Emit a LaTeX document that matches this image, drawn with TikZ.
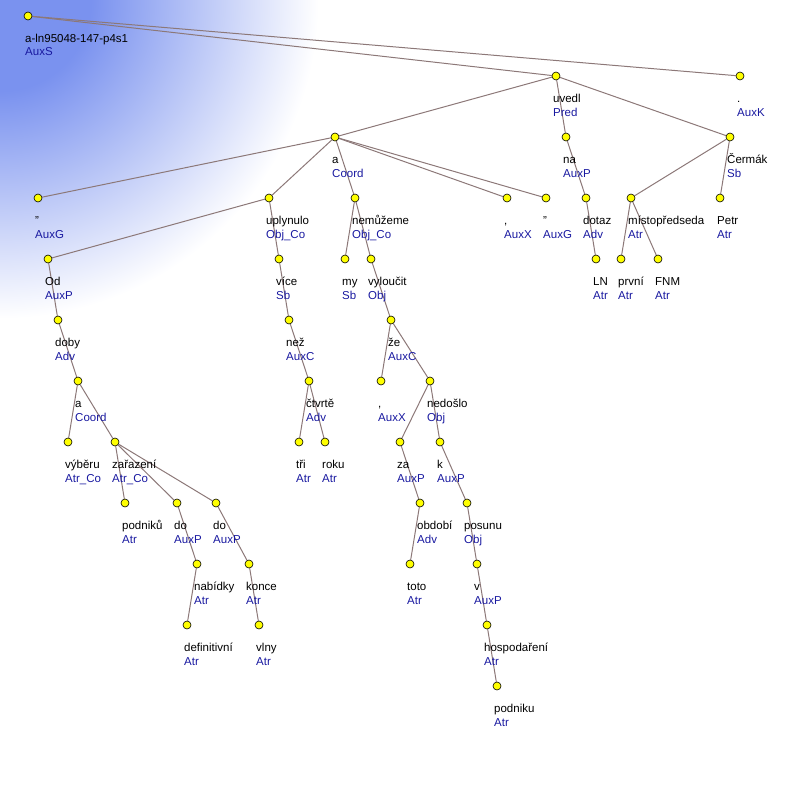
\documentclass[tikz,border=0pt]{standalone}
\usepackage{fontspec}
\setmainfont{Liberation Sans}
\usetikzlibrary{calc}
\usetikzlibrary{backgrounds}
\usepackage{xcolor}

\definecolor{fadeblue}{RGB}{122,146,239}
\definecolor{edgegray}{RGB}{140,120,120}
\definecolor{afunblue}{RGB}{25,25,160}
\definecolor{nodeyellow}{RGB}{255,255,0}

\pgfdeclareradialshading{cornerfade}{\pgfpoint{0bp}{0bp}}{color(0bp)=(fadeblue); color(7bp)=(fadeblue); color(24.5bp)=(white); color(50bp)=(white)}

\tikzset{
  tnode/.style={circle, draw=black, fill=nodeyellow, line width=0.6pt, inner sep=0pt, minimum size=8pt},
  tedge/.style={draw=edgegray, line width=1pt},
  wordlbl/.style={anchor=base west, inner sep=0pt, font=\fontsize{11.5}{13}\selectfont},
  afunlbl/.style={wordlbl, text=afunblue}
}

\begin{document}
\begin{tikzpicture}[x=1pt,y=-1pt]
        \useasboundingbox (0,0) rectangle (796,795);

        % Tree nodes
        \foreach \n/\x/\y/\w/\f in {root/28/16/a-ln95048-147-p4s1/AuxS,
            uvedl/556/76/uvedl/Pred, auxk/740/76/./AuxK,
            coord/335/137/a/Coord, na/566/137/na/AuxP, cermak/730/137/Čermák/Sb,
            quoA/38/198/"/AuxG, uplynulo/269/198/uplynulo/Obj\_Co,
            nemuzeme/355/198/nemůžeme/Obj\_Co, commaA/507/198/{,}/AuxX,
            quoB/546/198/"/AuxG, dotaz/586/198/dotaz/Adv,
            mistopr/631/198/místopředseda/Atr, petr/720/198/Petr/Atr,
            od/48/259/Od/AuxP, vice/279/259/více/Sb, my/345/259/my/Sb,
            vyloucit/371/259/vyloučit/Obj, ln/596/259/LN/Atr,
            prvni/621/259/první/Atr, fnm/658/259/FNM/Atr,
            doby/58/320/doby/Adv, nez/289/320/než/AuxC, ze/391/320/že/AuxC,
            coordB/78/381/a/Coord, ctvrte/309/381/čtvrtě/Adv,
            commaB/381/381/{,}/AuxX, nedoslo/430/381/nedošlo/Obj,
            vyberu/68/442/výběru/Atr\_Co, zarazeni/115/442/zařazení/Atr\_Co,
            tri/299/442/tři/Atr, roku/325/442/roku/Atr,
            za/400/442/za/AuxP, k/440/442/k/AuxP,
            podnikuA/125/503/podniků/Atr, doA/177/503/do/AuxP,
            doB/216/503/do/AuxP, obdobi/420/503/období/Adv,
            posunu/467/503/posunu/Obj,
            nabidky/197/564/nabídky/Atr, konce/249/564/konce/Atr,
            toto/410/564/toto/Atr, v/477/564/v/AuxP,
            definitivni/187/625/definitivní/Atr, vlny/259/625/vlny/Atr,
            hospodareni/487/625/hospodaření/Atr,
            podnikuB/497/686/podniku/Atr}
        {
          \node[tnode] (\n) at (\x,\y) {};
          \node[wordlbl] (\n-w) at ($(\n)+(-3,26)$) {\w};
          \node[afunlbl] (\n-f) at ($(\n)+(-3,40)$) {\f};
        }

        \begin{pgfonlayer}{background}
          % Corner fade
          \begin{scope}
            \clip (0,0) rectangle (796,795);
            \shade[shading=cornerfade] (0,0) circle (325pt);
          \end{scope}

          % Edges
          \foreach \a/\b in {root/uvedl, root/auxk,
              uvedl/coord, uvedl/na, uvedl/cermak,
              coord/quoA, coord/uplynulo, coord/nemuzeme, coord/commaA, coord/quoB,
              na/dotaz, cermak/mistopr, cermak/petr,
              uplynulo/od, uplynulo/vice, nemuzeme/my, nemuzeme/vyloucit,
              dotaz/ln, mistopr/prvni, mistopr/fnm,
              od/doby, doby/coordB, coordB/vyberu, coordB/zarazeni,
              zarazeni/podnikuA, zarazeni/doA, zarazeni/doB,
              doA/nabidky, nabidky/definitivni, doB/konce, konce/vlny,
              vice/nez, nez/ctvrte, ctvrte/tri, ctvrte/roku,
              vyloucit/ze, ze/commaB, ze/nedoslo, nedoslo/za, nedoslo/k,
              za/obdobi, obdobi/toto, k/posunu, posunu/v, v/hospodareni,
              hospodareni/podnikuB}
            \draw[tedge] (\a) -- (\b);
        \end{pgfonlayer}
\end{tikzpicture}
\end{document}
